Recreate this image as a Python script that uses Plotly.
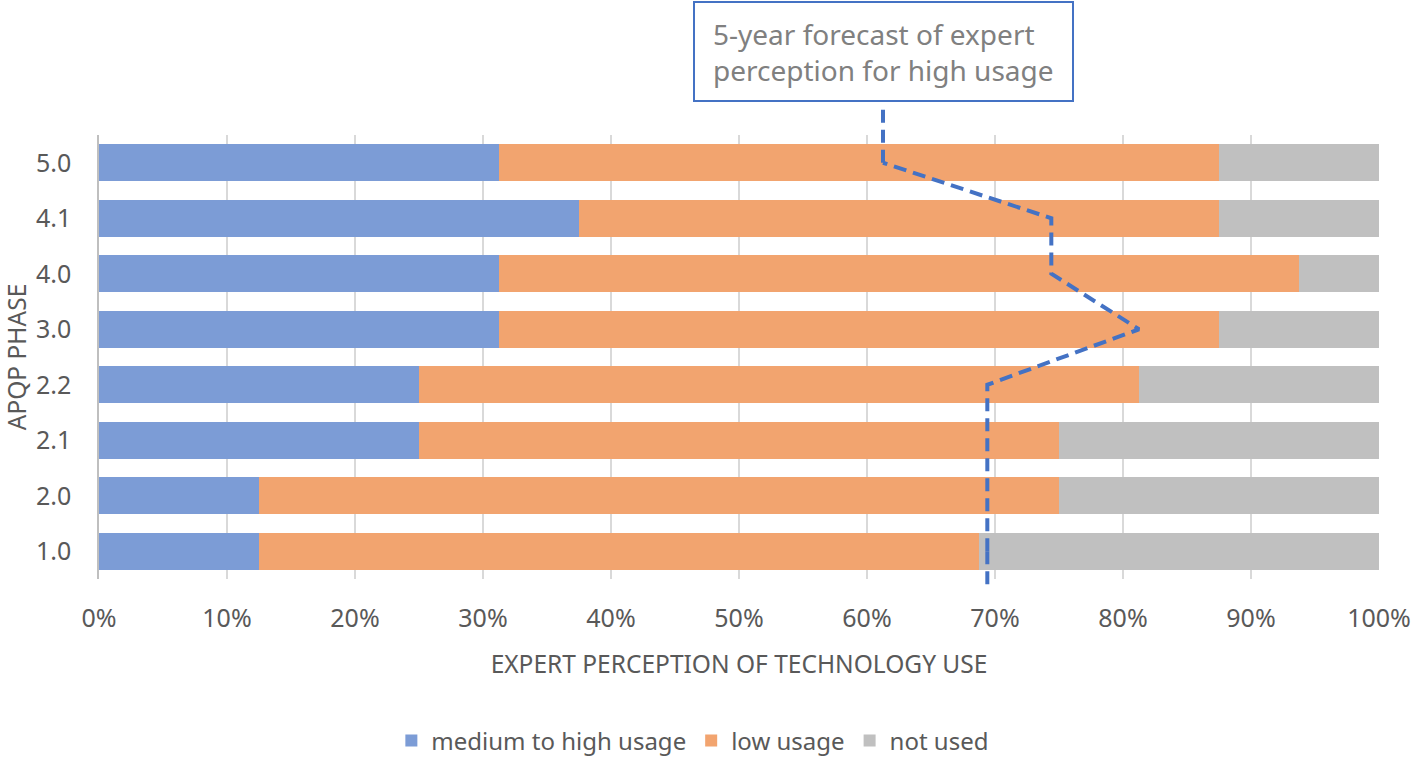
import plotly.graph_objects as go

phases = ["1.0", "2.0", "2.1", "2.2", "3.0", "4.0", "4.1", "5.0"]
medium_high = [0.125, 0.125, 0.25, 0.25, 0.3125, 0.3125, 0.375, 0.3125]
low = [0.5625, 0.625, 0.50, 0.5625, 0.5625, 0.625, 0.50, 0.5625]
not_used = [0.3125, 0.25, 0.25, 0.1875, 0.125, 0.0625, 0.125, 0.125]
forecast = [0.694, 0.694, 0.694, 0.694, 0.8125, 0.744, 0.744, 0.6125]
x_ticks = [0, 0.1, 0.2, 0.3, 0.4, 0.5, 0.6, 0.7, 0.8, 0.9, 1.0]

FONT = "Noto Sans"
TXT = "#595959"

fig = go.Figure()
fig.add_bar(y=phases, x=medium_high, orientation="h", name="medium to high usage",
            marker=dict(color="#7C9CD6", line=dict(width=0)))
fig.add_bar(y=phases, x=low, orientation="h", name="low usage",
            marker=dict(color="#F2A46F", line=dict(width=0)))
fig.add_bar(y=phases, x=not_used, orientation="h", name="not used",
            marker=dict(color="#C0C0C0", line=dict(width=0)))
fig.add_scatter(y=phases, x=forecast, mode="lines", showlegend=False,
                line=dict(color="#4472C4", width=4, dash="13px,7px"),
                hoverinfo="skip")

n = len(phases)
dash_line = dict(color="#4472C4", width=4, dash="13px,7px")
# extension up to the annotation box and down below the axis
fig.add_shape(type="line", xref="x", yref="paper",
              x0=forecast[-1], x1=forecast[-1], y0=(n - 0.5) / n, y1=1.057,
              line=dash_line)
fig.add_shape(type="line", xref="x", yref="paper",
              x0=forecast[0], x1=forecast[0], y0=0.5 / n, y1=-0.026,
              line=dash_line)

# annotation box (frame) and its text
fig.add_annotation(xref="x", yref="paper", x=forecast[-1], y=1.187,
                   xanchor="center", yanchor="middle", showarrow=False,
                   text=" ", width=377, height=97, borderpad=0,
                   bordercolor="#4472C4", borderwidth=2, bgcolor="white")
fig.add_annotation(xref="x", yref="paper", x=forecast[-1], y=1.187,
                   xanchor="center", yanchor="middle", showarrow=False,
                   text="5-year forecast of expert<br>perception for high usage",
                   align="left", font=dict(family=FONT, size=28, color="#808080"))

fig.update_layout(
    barmode="stack",
    bargap=0.33,
    width=1414, height=759,
    margin=dict(l=99, r=35, t=135, b=180, autoexpand=False),
    plot_bgcolor="white", paper_bgcolor="white",
    font=dict(family=FONT, size=25, color=TXT),
    legend=dict(orientation="h", xref="container", yref="container",
                x=0.49, xanchor="center", y=0.024, yanchor="middle",
                font=dict(size=24, color=TXT), traceorder="normal"),
    xaxis=dict(range=[0, 1], tickvals=x_ticks, tickformat=".0%",
               showgrid=True, gridcolor="#D9D9D9", gridwidth=1.5,
               zeroline=False, showline=False, ticks="", automargin=False,
               ticklabelstandoff=22, tickfont=dict(size=25),
               title=dict(text="EXPERT PERCEPTION OF TECHNOLOGY USE",
                          font=dict(size=24.5, color=TXT), standoff=22)),
    yaxis=dict(type="category", categoryorder="array", categoryarray=phases,
               range=[-0.5, n - 0.5], showgrid=False, zeroline=False,
               showline=True, linecolor="#BFBFBF", linewidth=1.5, ticks="",
               automargin=False, ticklabelstandoff=21, tickfont=dict(size=25),
               title=dict(text="APQP PHASE", font=dict(size=24.5, color=TXT), standoff=5)),
)

fig.write_html("out.html", config={"displayModeBar": False},
               post_script="document.body.style.margin='0';document.body.style.overflow='hidden';")
